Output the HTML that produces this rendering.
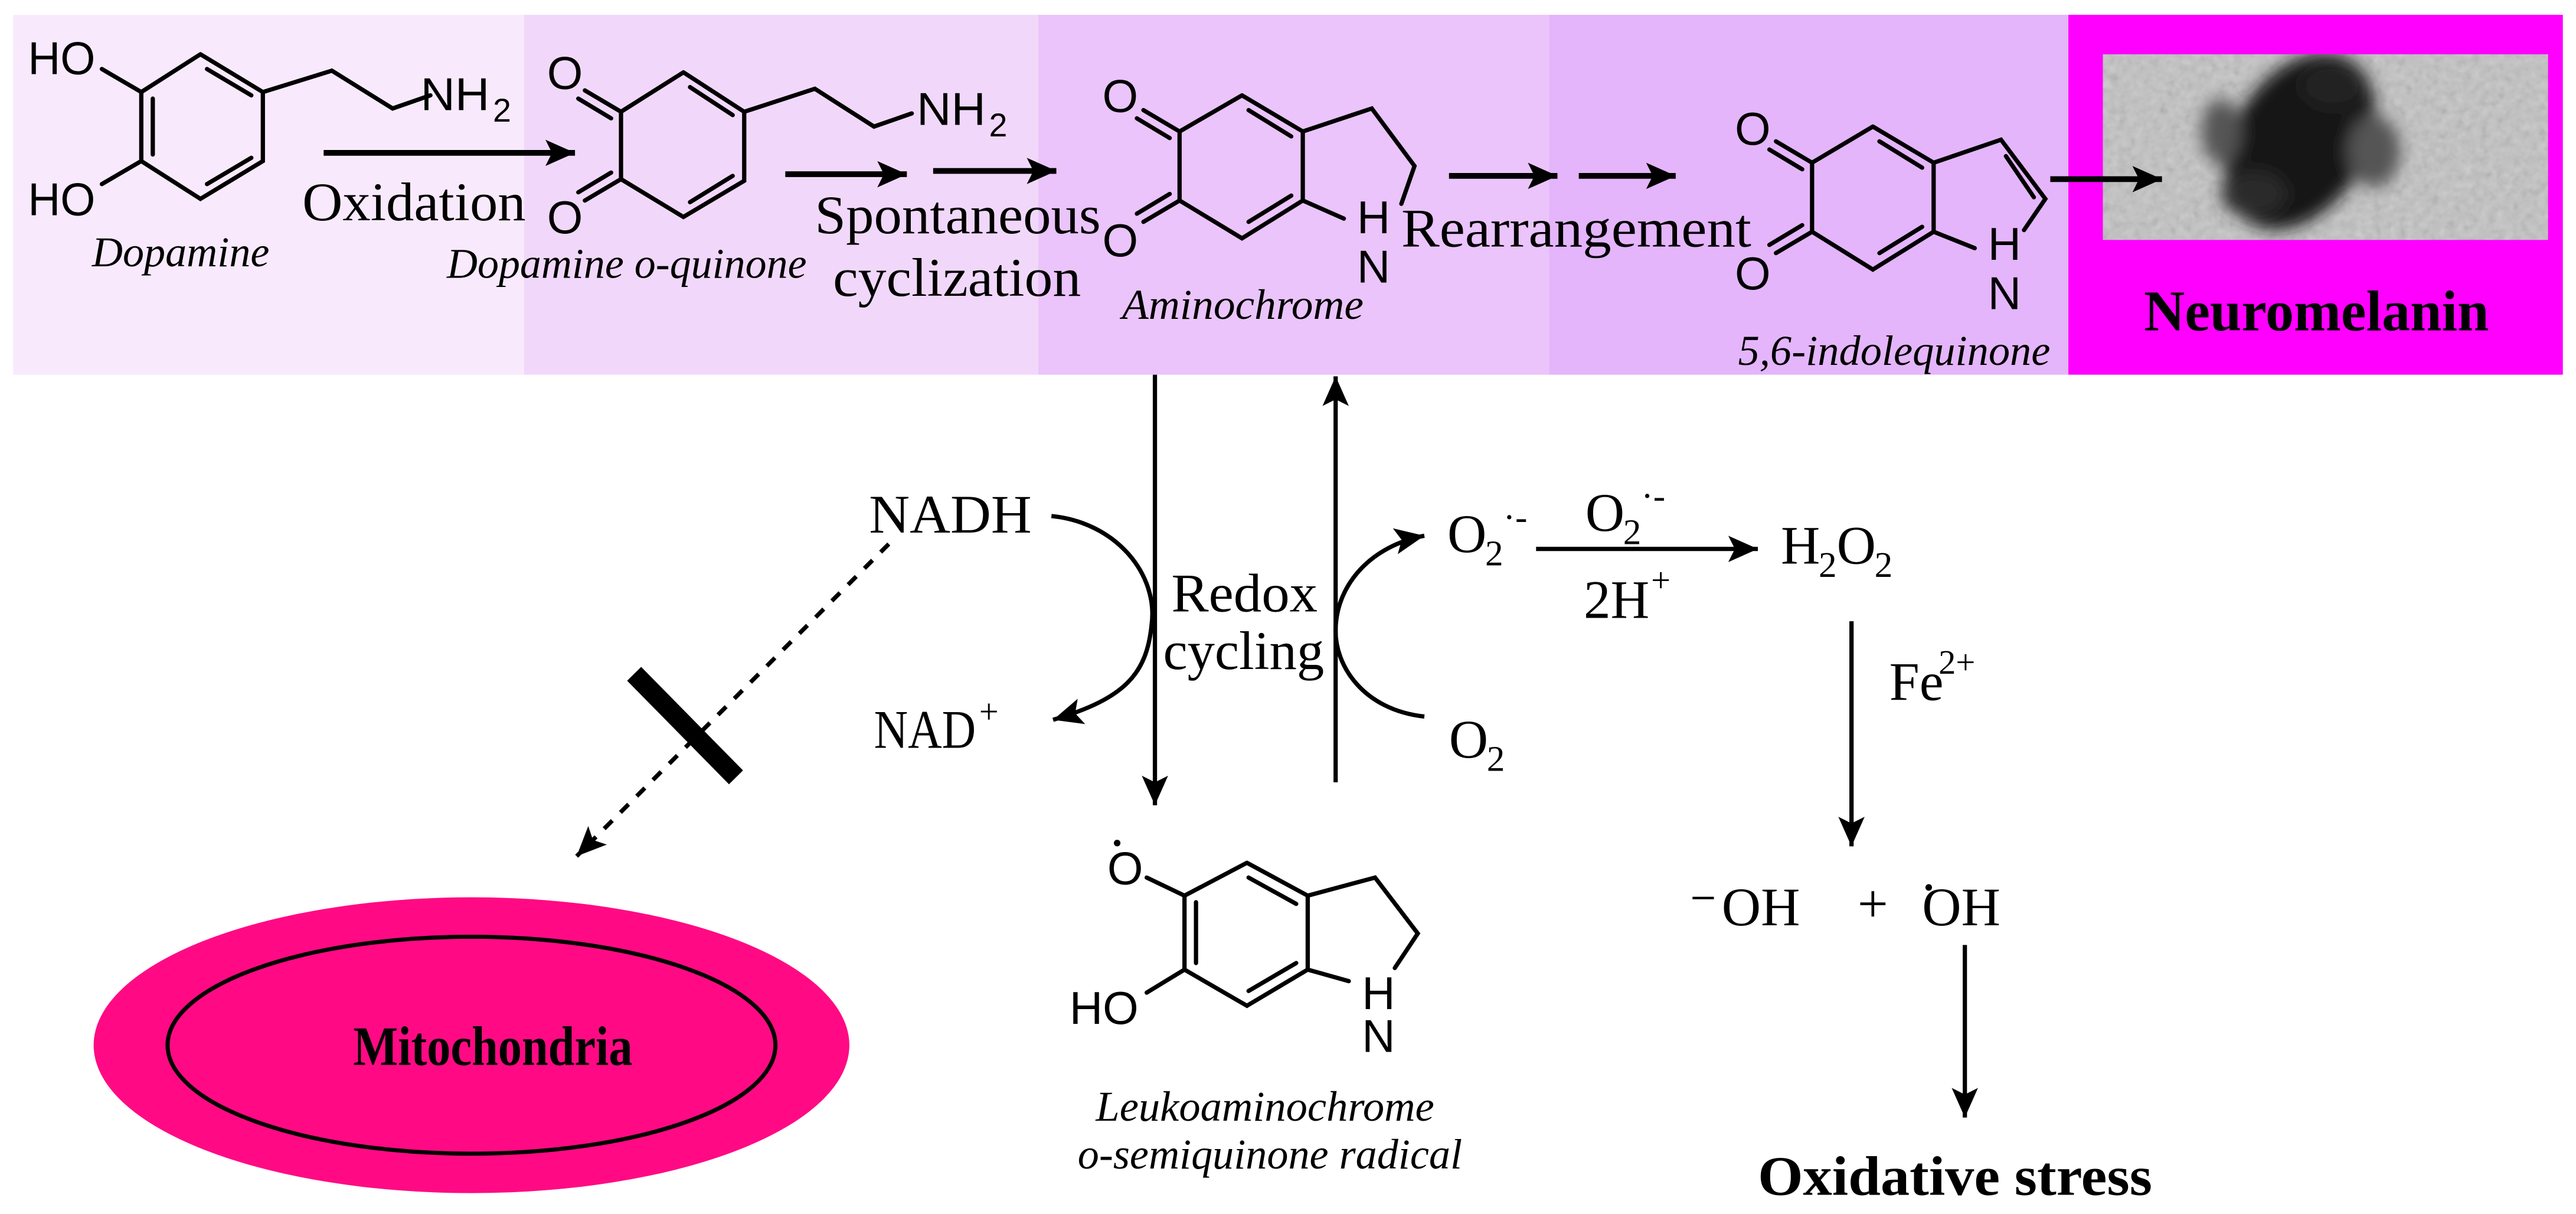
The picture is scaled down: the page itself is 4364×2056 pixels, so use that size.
<!DOCTYPE html>
<html><head><meta charset="utf-8"><style>
html,body{margin:0;padding:0;background:#fff}
svg{display:block}
.s{font-family:"Liberation Serif",serif}
.a{font-family:"Liberation Sans",sans-serif;font-size:28px}
</style></head><body>
<svg width="4364" height="2056" viewBox="0 0 1568 738.7" xmlns="http://www.w3.org/2000/svg">
<defs>
<marker id="ah" markerWidth="20" markerHeight="16" refX="18" refY="8" orient="auto" markerUnits="userSpaceOnUse">
<path d="M0,0 L18,8 L0,16 L4,8 Z" fill="#000"/></marker>
<filter id="bl" x="-50%" y="-50%" width="200%" height="200%"><feGaussianBlur stdDeviation="5"/></filter>
<filter id="tx" x="0" y="0" width="100%" height="100%"><feTurbulence type="fractalNoise" baseFrequency="0.2" numOctaves="2" result="n"/><feColorMatrix in="n" type="saturate" values="0"/><feComponentTransfer><feFuncA type="linear" slope="0.45"/></feComponentTransfer></filter>
<clipPath id="cp"><rect x="1280" y="33" width="271" height="113"/></clipPath>
</defs>
<rect x="8" y="9" width="311" height="219" fill="#f8eafc"/>
<rect x="319" y="9" width="313" height="219" fill="#f1d8fa"/>
<rect x="632" y="9" width="311" height="219" fill="#eac4fa"/>
<rect x="943" y="9" width="316" height="219" fill="#e4b5fa"/>
<rect x="1259" y="9" width="301" height="219" fill="#ff00ff"/>
<g clip-path="url(#cp)">
<rect x="1280" y="33" width="271" height="113" fill="#c2c2c2"/>
<rect x="1280" y="33" width="271" height="113" filter="url(#tx)"/>
<g filter="url(#bl)">
<ellipse cx="1400" cy="86" rx="58" ry="40" transform="rotate(-58 1400 86)" fill="#151515"/>
<ellipse cx="1420" cy="52" rx="20" ry="14" fill="#222"/>
<ellipse cx="1372" cy="118" rx="20" ry="14" fill="#2a2a2a"/>
<ellipse cx="1445" cy="92" rx="16" ry="22" fill="#555"/>
<ellipse cx="1352" cy="80" rx="12" ry="20" fill="#555"/>
</g>
</g>
<g stroke="#000" stroke-width="2.6" fill="none" stroke-linecap="round">
<polyline points="122,33 160,56 160,98 122,121 86,98 86,56 122,33"/>
<line x1="126" y1="42" x2="153" y2="58"/><line x1="153" y1="96" x2="126" y2="112"/><line x1="93" y1="60" x2="93" y2="94"/>
<line x1="86" y1="56" x2="62" y2="42"/><line x1="86" y1="98" x2="62" y2="112"/>
<polyline points="160,56 202,43 239,66 262,58"/>
<polyline points="416,44 453,68 453,110 416,132 378,109 378,68 416,44"/>
<line x1="420" y1="53" x2="446" y2="70"/><line x1="446" y1="107" x2="420" y2="123"/>
<line x1="378" y1="68" x2="356" y2="55"/><line x1="372" y1="72" x2="352" y2="60"/>
<line x1="378" y1="109" x2="356" y2="122"/><line x1="372" y1="105" x2="352" y2="117"/>
<polyline points="453,68 496,54 532,77 555,69"/>
<polyline points="756,58 793,80 793,122 756,145 718,122 718,80 756,58"/>
<line x1="760" y1="67" x2="786" y2="83"/><line x1="786" y1="119" x2="760" y2="135"/>
<line x1="718" y1="80" x2="696" y2="67"/><line x1="712" y1="84" x2="692" y2="72"/>
<line x1="718" y1="122" x2="696" y2="135"/><line x1="712" y1="118" x2="692" y2="130"/>
<polyline points="793,80 835,66 861,101 853,124"/>
<line x1="793" y1="122" x2="818" y2="133"/>
<polyline points="1140,77 1177,99 1177,141 1140,164 1103,141 1103,99 1140,77"/>
<line x1="1144" y1="86" x2="1170" y2="102"/><line x1="1170" y1="138" x2="1144" y2="154"/>
<line x1="1103" y1="99" x2="1081" y2="86"/><line x1="1097" y1="103" x2="1077" y2="91"/>
<line x1="1103" y1="141" x2="1081" y2="154"/><line x1="1097" y1="137" x2="1077" y2="149"/>
<polyline points="1177,99 1218,85 1245,121 1232,140"/>
<line x1="1221" y1="95" x2="1238" y2="120"/>
<line x1="1177" y1="141" x2="1202" y2="151"/>
<polyline points="759,525 796,545 796,590 759,612 721,590 721,545 759,525"/>
<line x1="760" y1="534" x2="789" y2="550"/><line x1="789" y1="586" x2="760" y2="603"/><line x1="728" y1="549" x2="728" y2="586"/>
<polyline points="796,545 837,534 863,568 849,589"/>
<line x1="796" y1="590" x2="821" y2="597"/>
<line x1="721" y1="545" x2="698" y2="534"/><line x1="721" y1="590" x2="698" y2="604"/>
</g>
<g class="a" fill="#000">
<text x="17" y="45" textLength="41" lengthAdjust="spacingAndGlyphs">HO</text>
<text x="17" y="131" textLength="41" lengthAdjust="spacingAndGlyphs">HO</text>
<text x="256" y="67" textLength="42" lengthAdjust="spacingAndGlyphs">NH</text><text x="300" y="74" font-size="20">2</text>
<text x="333" y="54">O</text><text x="333" y="142">O</text>
<text x="558" y="76" textLength="42" lengthAdjust="spacingAndGlyphs">NH</text><text x="602" y="83" font-size="20">2</text>
<text x="671" y="68">O</text><text x="671" y="156">O</text>
<text x="826" y="142">H</text><text x="826" y="172">N</text>
<text x="1056" y="88">O</text><text x="1056" y="176">O</text>
<text x="1210" y="158">H</text><text x="1210" y="188">N</text>
<text x="674" y="538">O</text><text x="651" y="623">HO</text>
<text x="829" y="614">H</text><text x="829" y="640">N</text>
</g>
<circle cx="680" cy="513" r="2" fill="#000"/>
<g class="s" fill="#000" font-size="33">
<text x="184" y="134" textLength="136" lengthAdjust="spacingAndGlyphs">Oxidation</text>
<text x="56" y="162" font-size="26" font-style="italic" textLength="108" lengthAdjust="spacingAndGlyphs">Dopamine</text>
<text x="272" y="169" font-size="26" font-style="italic" textLength="219" lengthAdjust="spacingAndGlyphs">Dopamine o-quinone</text>
<text x="496" y="142" textLength="174" lengthAdjust="spacingAndGlyphs">Spontaneous</text>
<text x="507" y="180" textLength="151" lengthAdjust="spacingAndGlyphs">cyclization</text>
<text x="683" y="194" font-size="26" font-style="italic" textLength="147" lengthAdjust="spacingAndGlyphs">Aminochrome</text>
<text x="853" y="150" textLength="213" lengthAdjust="spacingAndGlyphs">Rearrangement</text>
<text x="1058" y="222" font-size="26" font-style="italic" textLength="190" lengthAdjust="spacingAndGlyphs">5,6-indolequinone</text>
<text x="1305" y="201" font-size="35" font-weight="bold" textLength="210" lengthAdjust="spacingAndGlyphs">Neuromelanin</text>
<text x="529" y="324" textLength="99" lengthAdjust="spacingAndGlyphs">NADH</text>
<text x="532" y="455" textLength="62" lengthAdjust="spacingAndGlyphs">NAD</text><text x="596" y="440" font-size="21">+</text>
<text x="713" y="372" textLength="89" lengthAdjust="spacingAndGlyphs">Redox</text>
<text x="708" y="407" textLength="98" lengthAdjust="spacingAndGlyphs">cycling</text>
<text x="881" y="336">O</text><text x="904" y="344" font-size="22">2</text><text x="915" y="322" font-size="22">·-</text>
<text x="965" y="323">O</text><text x="988" y="331" font-size="22">2</text><text x="999" y="309" font-size="22">·-</text>
<text x="964" y="376" textLength="40" lengthAdjust="spacingAndGlyphs">2H</text><text x="1005" y="360" font-size="21">+</text>
<text x="882" y="461">O</text><text x="905" y="469" font-size="22">2</text>
<text x="1084" y="343">H</text><text x="1107" y="351" font-size="22">2</text><text x="1118" y="343">O</text><text x="1141" y="351" font-size="22">2</text>
<text x="1150" y="426">Fe</text><text x="1180" y="410" font-size="21">2+</text>
<text x="1028" y="563">⁻</text><text x="1048" y="563">OH</text>
<text x="1140" y="561" text-anchor="middle">+</text>
<text x="1170" y="563">OH</text>
<text x="667" y="682" font-size="26" font-style="italic" textLength="206" lengthAdjust="spacingAndGlyphs">Leukoaminochrome</text>
<text x="656" y="711" font-size="26" font-style="italic" textLength="234" lengthAdjust="spacingAndGlyphs">o-semiquinone radical</text>
<text x="1070" y="727" font-size="34" font-weight="bold" textLength="240" lengthAdjust="spacingAndGlyphs">Oxidative stress</text>
</g>
<circle cx="1174" cy="540" r="2" fill="#000"/>
<g stroke="#000" stroke-width="3.5" fill="none" marker-end="url(#ah)">
<line x1="197" y1="93" x2="350" y2="93"/>
<line x1="478" y1="106" x2="552" y2="106"/>
<line x1="568" y1="104" x2="643" y2="104"/>
<line x1="882" y1="107" x2="948" y2="107"/>
<line x1="961" y1="107" x2="1020" y2="107"/>
<line x1="1248" y1="109" x2="1316" y2="109"/>
</g>
<g stroke="#000" stroke-width="2.6" fill="none" marker-end="url(#ah)">
<line x1="703" y1="228" x2="703" y2="490"/>
<line x1="813" y1="476" x2="813" y2="229"/>
<path d="M640,314 C680,318 705,350 701,380 C698,410 685,425 641,438"/>
<path d="M867,436 C830,432 812,405 813,382 C814,355 835,332 867,326"/>
<line x1="935" y1="334" x2="1070" y2="334"/>
<line x1="1127" y1="378" x2="1127" y2="515"/>
<line x1="1196" y1="575" x2="1196" y2="680"/>
<line x1="541" y1="331" x2="351" y2="521" stroke-dasharray="7,7"/>
</g>
<line x1="386" y1="410" x2="448" y2="473" stroke="#000" stroke-width="12"/>
<ellipse cx="287" cy="636" rx="230" ry="90" fill="#ff0a84"/>
<ellipse cx="287" cy="636" rx="185" ry="66" fill="none" stroke="#000" stroke-width="2.5"/>
<text x="215" y="648" class="s" font-size="34" font-weight="bold" textLength="170" lengthAdjust="spacingAndGlyphs">Mitochondria</text>
</svg>
</body></html>
